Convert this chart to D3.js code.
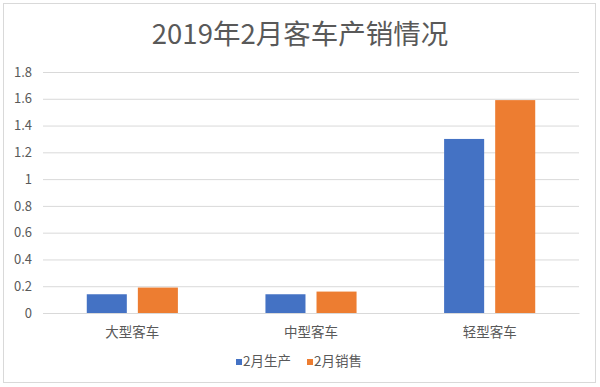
<!DOCTYPE html>
<html><head><meta charset="utf-8">
<script src="https://cdn.jsdelivr.net/npm/d3@7"></script>
<style>body{margin:0;background:#fff}svg{display:block}text{font-family:"Noto Sans CJK SC","Noto Sans",sans-serif;fill:#595959}</style>
</head><body><svg id="c" width="600" height="387"></svg>
<script>
const title = "2019年2月客车产销情况";
const categories = ["大型客车", "中型客车", "轻型客车"];
const seriesNames = ["2月生产", "2月销售"];
const production = [0.14, 0.14, 1.30];
const sales = [0.19, 0.16, 1.59];
const yTicks = [0, 0.2, 0.4, 0.6, 0.8, 1, 1.2, 1.4, 1.6, 1.8];
const colors = ["#4472C4", "#ED7D31"];

const svg = d3.select("#c");
svg.append("rect").attr("x",3.5).attr("y",3.5).attr("width",592).attr("height",379)
  .attr("fill","#fff").attr("stroke","#d9d9d9");

const L=43, R=579, T=72, B=313;
const x0 = d3.scaleBand().domain(categories).range([L,R]).padding(0);
const bw = x0.bandwidth();
const x1 = d3.scaleBand().domain(seriesNames).range([bw*0.245, bw*0.755]).paddingInner(0.216);
const y = d3.scaleLinear().domain([0,1.8]).range([B,T]);

const yAxis = d3.axisLeft(y).tickValues(yTicks).tickSize(-(R-L)).tickPadding(11).tickFormat(d=>String(d));
const gy = svg.append("g").attr("transform",`translate(${L},0)`).call(yAxis);
gy.select(".domain").remove();
gy.selectAll(".tick line").attr("stroke","#d9d9d9");
gy.selectAll(".tick text").attr("font-size",13).attr("fill","#595959");

const table = categories.map((c,i)=>({cat:c, vals:[production[i], sales[i]]}));
const g = svg.append("g").selectAll("g").data(table).join("g")
  .attr("transform",d=>`translate(${x0(d.cat)},0)`);
g.selectAll("rect").data(d=>d.vals.map((v,j)=>({s:seriesNames[j],v,j}))).join("rect")
  .attr("x",d=>x1(d.s)).attr("width",x1.bandwidth())
  .attr("y",d=>y(d.v)).attr("height",d=>B-y(d.v)).attr("fill",d=>colors[d.j]);

const xAxis = d3.axisBottom(x0).tickSize(0).tickPadding(14);
const gx = svg.append("g").attr("transform",`translate(0,${B})`).call(xAxis);
gx.select(".domain").attr("stroke","#d9d9d9");
gx.selectAll(".tick text").attr("font-size",13.5).attr("fill","#595959");

svg.append("text").attr("x",300).attr("y",44).attr("text-anchor","middle")
  .attr("font-size",27.5).text(title);

const leg = svg.append("g").attr("transform","translate(236,366)");
const items = leg.selectAll("g").data(seriesNames).join("g")
  .attr("transform",(d,i)=>`translate(${i*71},0)`);
items.append("rect").attr("x",0).attr("y",-7).attr("width",6).attr("height",6).attr("fill",(d,i)=>colors[i]);
items.append("text").attr("x",7).attr("y",0).attr("font-size",13.5).text(d=>d);
</script></body></html>
